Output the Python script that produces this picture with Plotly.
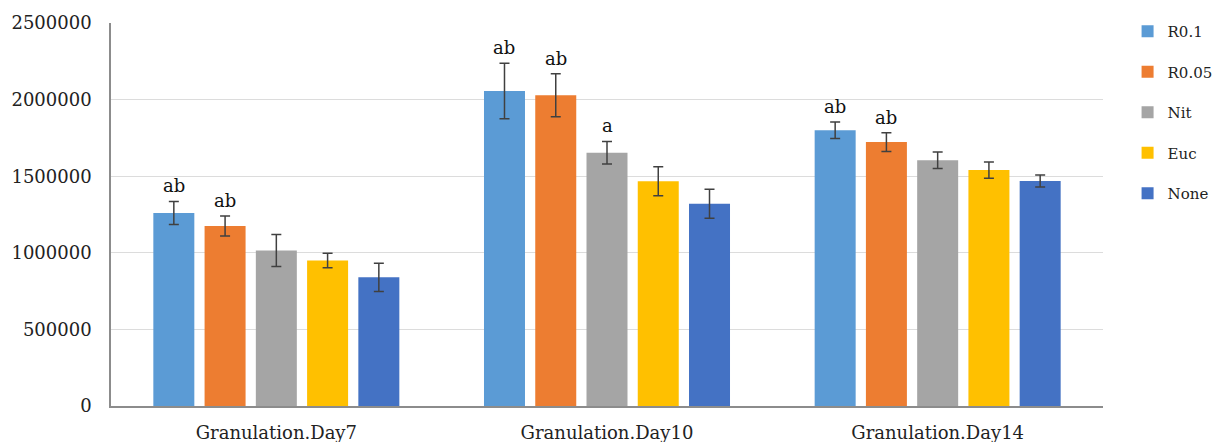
import plotly.graph_objects as go

categories = ["Granulation.Day7", "Granulation.Day10", "Granulation.Day14"]
series_names = ["R0.1", "R0.05", "Nit", "Euc", "None"]
colors = ["#5b9bd5", "#ed7d31", "#a5a5a5", "#ffc000", "#4472c4"]

r01 = [1260000, 2056000, 1800000]
r005 = [1175000, 2028000, 1723000]
nit = [1015000, 1653000, 1604000]
euc = [950000, 1467000, 1540000]
none = [840000, 1320000, 1469000]

r01_err = [75000, 181000, 54000]
r005_err = [65000, 140000, 61000]
nit_err = [105000, 74000, 54000]
euc_err = [47000, 94000, 53000]
none_err = [92000, 95000, 39000]

r01_lbl = ["ab", "ab", "ab"]
r005_lbl = ["ab", "ab", "ab"]
nit_lbl = ["", "a", ""]
euc_lbl = ["", "", ""]
none_lbl = ["", "", ""]

values = [r01, r005, nit, euc, none]
errors = [r01_err, r005_err, nit_err, euc_err, none_err]
labels = [r01_lbl, r005_lbl, nit_lbl, euc_lbl, none_lbl]

FONT = "DejaVu Serif"
BARGAP = 0.225
n = len(series_names)
slot = (1 - BARGAP) / n

fig = go.Figure()
for i, name in enumerate(series_names):
    fig.add_trace(go.Bar(
        name=name, x=categories, y=values[i],
        marker=dict(color=colors[i], line=dict(width=0)),
        error_y=dict(type="data", array=errors[i], visible=True,
                     color="#404040", thickness=1.5, width=5),
        legendgroup=name,
    ))
    for j, cat in enumerate(categories):
        if labels[i][j]:
            fig.add_annotation(
                x=j + (i - (n - 1) / 2) * slot, xref="x",
                y=values[i][j] + errors[i][j], yref="y",
                text=labels[i][j], showarrow=False, yanchor="bottom", yshift=3,
                font=dict(family=FONT, size=18, color="#111111"),
            )

fig.update_layout(
    width=1219, height=442,
    margin=dict(l=111, r=116, t=23, b=36, autoexpand=False),
    plot_bgcolor="white", paper_bgcolor="white",
    barmode="group", bargap=BARGAP, bargroupgap=0.2,
    font=dict(family=FONT, size=17, color="#222222"),
    legend=dict(xref="container", yref="container", x=0.925, y=0.966,
                xanchor="left", yanchor="top",
                font=dict(family=FONT, size=15),
                tracegroupgap=18, traceorder="grouped"),
    xaxis=dict(showline=True, linecolor="#8c8c8c", linewidth=1.5,
               ticks="", ticklabelstandoff=10,
               tickfont=dict(family=FONT, size=18)),
    yaxis=dict(range=[0, 2500000], dtick=500000, tickformat="d",
               showgrid=True, gridcolor="#dcdcdc", gridwidth=1,
               showline=True, linecolor="#8c8c8c", linewidth=1.5,
               zeroline=False, ticks="", ticklabelstandoff=14,
               tickfont=dict(family=FONT, size=18)),
)

fig.write_html("out.html", config={"displayModeBar": False},
               post_script="document.body.style.margin='0';")
